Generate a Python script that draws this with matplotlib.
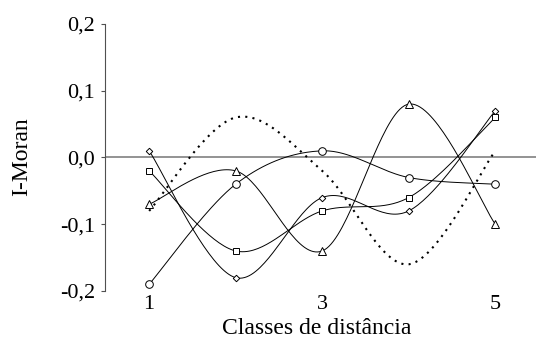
import numpy as np
import matplotlib
matplotlib.use("Agg")
import matplotlib.pyplot as plt

plt.rcParams['font.family'] = ['Liberation Serif', 'DejaVu Serif']

# distance classes and Moran's I per series
classes = [1, 2, 3, 4, 5]
diamond = [0.01, -0.18, -0.06, -0.08, 0.07]
square = [-0.02, -0.14, -0.08, -0.06, 0.06]
circle = [-0.19, -0.04, 0.01, -0.03, -0.04]
triangle = [-0.07, -0.02, -0.14, 0.08, -0.10]
dotted = [-0.08, 0.06, -0.02, -0.16, 0.01]

ytick_vals = [-0.2, -0.1, 0.0, 0.1, 0.2]
ytick_labels = ["-0,2", "-0,1", "0,0", "0,1", "0,2"]
xtick_vals = [1, 3, 5]
xtick_labels = ["1", "3", "5"]


def smooth(x, y, n=40):
    # excel-like smoothed line (catmull-rom via bezier)
    x = np.asarray(x, float)
    y = np.asarray(y, float)
    p = np.column_stack([x, y])
    out = []
    for i in range(len(p) - 1):
        p0 = p[i - 1] if i > 0 else p[i]
        p1 = p[i]
        p2 = p[i + 1]
        p3 = p[i + 2] if i + 2 < len(p) else p[i + 1]
        c1 = p1 + (p2 - p0) / 6.0
        c2 = p2 - (p3 - p1) / 6.0
        t = np.linspace(0, 1, n)[:, None]
        seg = ((1 - t) ** 3) * p1 + 3 * ((1 - t) ** 2) * t * c1 + 3 * (1 - t) * t ** 2 * c2 + t ** 3 * p2
        out.append(seg if i == 0 else seg[1:])
    seg = np.vstack(out)
    return seg[:, 0], seg[:, 1]


fig = plt.figure(figsize=(5.36, 3.44), dpi=100)
ax = fig.add_axes([105 / 536, 53 / 344, 431 / 536, 267 / 344])

ax.axhline(0, color="#808080", lw=1.2, zorder=1)

for vals, mk, ms in [(diamond, "D", 3.3), (square, "s", 4.8), (circle, "o", 5.5), (triangle, "^", 5.5)]:
    sx, sy = smooth(classes, vals)
    ax.plot(sx, sy, color="black", lw=0.7, zorder=2)
    ax.plot(classes, vals, linestyle="none", marker=mk, ms=ms, mfc="white", mec="black", mew=0.7, zorder=3)

sx, sy = smooth(classes, dotted)
ax.plot(sx, sy, color="black", lw=1.5, linestyle=(0, (1, 2.5)), zorder=2)

ax.set_xlim(0.49, 5.47)
ax.set_ylim(-0.2, 0.2)
ax.set_yticks(ytick_vals)
ax.set_yticklabels(ytick_labels)
ax.set_xticks(xtick_vals)
ax.set_xticklabels(xtick_labels)
ax.tick_params(axis="y", length=3, width=0.8, color="#505050", labelsize=16, pad=4)
ax.tick_params(axis="x", length=0, labelsize=16, pad=3)
for s in ["top", "right", "bottom"]:
    ax.spines[s].set_visible(False)
ax.spines["left"].set_color("#505050")
ax.spines["left"].set_linewidth(0.8)

ax.set_xlabel("Classes de distância", fontsize=17)
ax.set_ylabel("I-Moran", fontsize=17)
ax.xaxis.label.set_va("center")
ax.yaxis.label.set_va("center")
ax.xaxis.set_label_coords((317 - 105) / 431, (291 - 329) / 267)
ax.yaxis.set_label_coords((22 - 105) / 431, (291 - 157) / 267)

fig.savefig("out.png", dpi=100)
